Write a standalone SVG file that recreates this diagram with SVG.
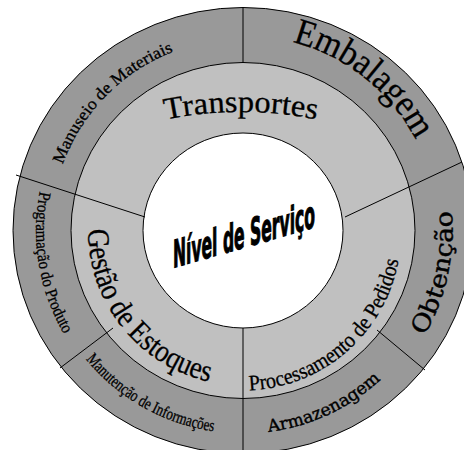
<svg xmlns="http://www.w3.org/2000/svg" xmlns:xlink="http://www.w3.org/1999/xlink" width="464" height="450" viewBox="0 0 464 450">
<style>
.ring{stroke:#000;stroke-width:1}
.dark{fill:#999999}
.light{fill:#c0c0c0}
.core{fill:#ffffff}
.div{stroke:#000;stroke-width:1;fill:none}
.t{font-family:"Liberation Serif","Times New Roman",serif;fill:#000;stroke:#000;stroke-width:0.3}
.w{font-family:"DejaVu Serif",serif;fill:#000;stroke:#000;stroke-width:0.4}
.n{font-family:"Liberation Sans Narrow","DejaVu Sans Condensed","Liberation Sans",sans-serif;font-weight:bold;fill:#000;stroke:#000;stroke-width:1.1}
</style>
<defs>
<path id="pTrans" d="M51,162.9 A380,380 0 0 1 431,162.9"/>
<path id="pEmb" d="M237.9,35.6 A195,195 0 0 1 434.1,191.6"/>
<path id="pMan" d="M51.6,215.8 A192,192 0 0 1 224.3,39.4"/>
<path id="pProg" d="M64.5,125.8 A207,207 0 0 0 108.8,388.1"/>
<path id="pMnt" d="M52.8,301.6 A203,203 0 0 0 280,430.1"/>
<path id="pArm" d="M190.5,426.6 A203,203 0 0 0 427,316.3"/>
<path id="pObt" d="M371.1,396.9 A211,211 0 0 0 429.1,133.2"/>
<path id="pProc" d="M217.4,388.4 A158,158 0 0 0 401,228.3"/>
<path id="pGest" d="M91.1,199.6 A155,155 0 0 0 238.9,385.4"/>
</defs>
<rect width="464" height="450" fill="#ffffff"/>
<g id="rings">
<ellipse class="ring dark" cx="243" cy="230.5" rx="230" ry="223"/>
<ellipse class="ring light" cx="243" cy="230.5" rx="172" ry="168"/>
<ellipse class="ring core" cx="243" cy="230.5" rx="100" ry="97.5"/>
</g>
<g id="connectors">
<line class="div" x1="243" y1="7.5" x2="243" y2="62.5"/>
<line class="div" x1="243" y1="328" x2="243" y2="455"/>
<line class="div" x1="16" y1="175" x2="145" y2="217"/>
<line class="div" x1="345" y1="217" x2="462" y2="162"/>
<line class="div" x1="113" y1="328" x2="60" y2="368"/>
<line class="div" x1="377" y1="330" x2="425" y2="370"/>
</g>
<g id="nivel-servico">
<text class="n" transform="translate(173,268) skewY(-16)" x="0" y="0" font-size="38" textLength="142" lengthAdjust="spacingAndGlyphs">Nível de Serviço</text>
</g>
<g id="transportes">
<text class="t" font-size="31"><textPath xlink:href="#pTrans" href="#pTrans" startOffset="50%" text-anchor="middle" textLength="152" lengthAdjust="spacingAndGlyphs">Transportes</textPath></text>
</g>
<g id="embalagem">
<text class="t" font-size="37"><textPath xlink:href="#pEmb" href="#pEmb" startOffset="50%" text-anchor="middle" textLength="162" lengthAdjust="spacingAndGlyphs">Embalagem</textPath></text>
</g>
<g id="manuseio">
<text class="t" font-size="17"><textPath xlink:href="#pMan" href="#pMan" startOffset="50%" text-anchor="middle" textLength="163" lengthAdjust="spacingAndGlyphs">Manuseio de Materiais</textPath></text>
</g>
<g id="programacao">
<text class="t" font-size="17"><textPath xlink:href="#pProg" href="#pProg" startOffset="50%" text-anchor="middle" textLength="148" lengthAdjust="spacingAndGlyphs">Programação do Produto</textPath></text>
</g>
<g id="manutencao">
<text class="t" font-size="17"><textPath xlink:href="#pMnt" href="#pMnt" startOffset="50%" text-anchor="middle" textLength="150" lengthAdjust="spacingAndGlyphs">Manutenção de Informações</textPath></text>
</g>
<g id="armazenagem">
<text class="w" font-size="17"><textPath xlink:href="#pArm" href="#pArm" startOffset="50%" text-anchor="middle" textLength="126" lengthAdjust="spacingAndGlyphs">Armazenagem</textPath></text>
</g>
<g id="obtencao">
<text class="w" font-size="24"><textPath xlink:href="#pObt" href="#pObt" startOffset="50%" text-anchor="middle" textLength="130" lengthAdjust="spacingAndGlyphs">Obtenção</textPath></text>
</g>
<g id="processamento">
<text class="t" font-size="22"><textPath xlink:href="#pProc" href="#pProc" startOffset="50%" text-anchor="middle" textLength="214" lengthAdjust="spacingAndGlyphs">Processamento de Pedidos</textPath></text>
</g>
<g id="gestao">
<text class="t" font-size="31"><textPath xlink:href="#pGest" href="#pGest" startOffset="50%" text-anchor="middle" textLength="210" lengthAdjust="spacingAndGlyphs">Gestão de Estoques</textPath></text>
</g>
</svg>
